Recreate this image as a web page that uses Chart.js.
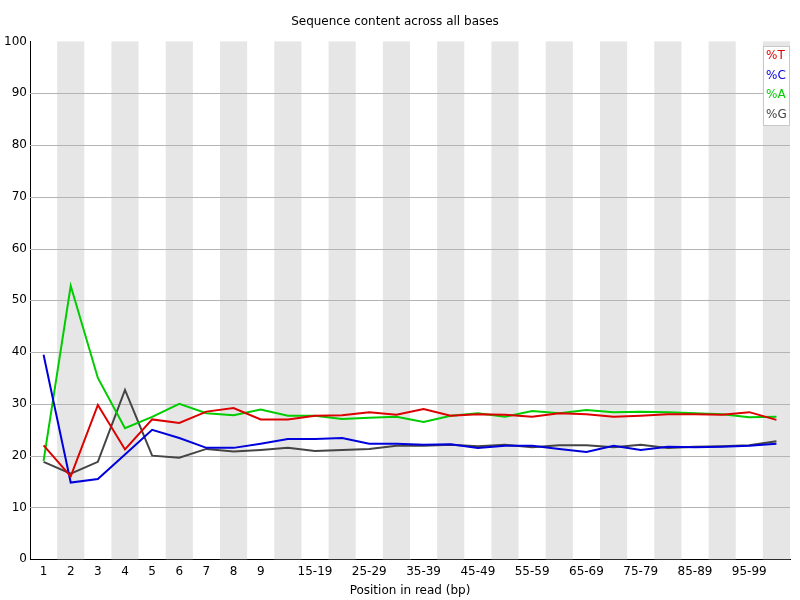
<!DOCTYPE html>
<html><head><meta charset="utf-8">
<script src="https://cdn.jsdelivr.net/npm/chart.js@4"></script>
<style>body{margin:0;background:#fff}#w{width:800px;height:600px}</style>
</head><body><div id="w"><canvas id="c"></canvas></div>
<script>
var labels = ['1','2','3','4','5','6','7','8','9','10-14','15-19','20-24','25-29','30-34','35-39','40-44','45-49','50-54','55-59','60-64','65-69','70-74','75-79','80-84','85-89','90-94','95-99','100-101'];
var pctT = [22,16,29.8,21.2,27,26.3,28.5,29.2,27,27,27.7,27.8,28.4,27.9,29,27.7,28,27.9,27.5,28.2,28,27.5,27.7,28,28,27.9,28.4,26.9];
var pctC = [39.5,14.8,15.5,20.2,25,23.4,21.5,21.5,22.3,23.2,23.2,23.4,22.3,22.3,22.1,22.2,21.5,21.9,21.9,21.3,20.7,21.9,21.1,21.7,21.6,21.7,21.9,22.3];
var pctA = [19,52.8,35,25.3,27.5,30,28.2,27.8,28.9,27.7,27.7,27.1,27.3,27.5,26.5,27.7,28.2,27.5,28.6,28.2,28.8,28.4,28.5,28.4,28.2,28,27.4,27.5];
var pctG = [18.8,16.5,18.8,32.7,20,19.6,21.3,20.8,21.1,21.5,20.9,21.1,21.3,21.9,21.9,22.1,21.8,22.1,21.6,22,22,21.6,22.1,21.5,21.7,21.8,22,22.8];

var fuente = 'DejaVu Sans';
Chart.defaults.font.family = fuente;
Chart.defaults.font.size = 12;
Chart.defaults.color = '#000';

function serie(nombre, datos, col) {
    return {label: nombre, data: datos, borderColor: col, backgroundColor: col,
        borderWidth: 2, pointRadius: 0, tension: 0};
}

// Bandas grises alternas y leyenda en la esquina
var fondo = {
    id: 'fondo',
    beforeDatasetsDraw: function (chart) {
        var c = chart.ctx, a = chart.chartArea, x = chart.scales.x;
        var w = x.getPixelForValue(1) - x.getPixelForValue(0);
        c.save();
        c.fillStyle = '#e6e6e6';
        for (var i = 1; i < labels.length; i += 2) {
            var px = x.getPixelForValue(i) - w / 2;
            c.fillRect(px, a.top, w, a.bottom - a.top);
        }
        c.restore();
        var y = chart.scales.y;
        c.save();
        c.strokeStyle = '#b4b4b4'; c.lineWidth = 1;
        for (var v = 10; v < 100; v += 10) {
            var py = Math.round(y.getPixelForValue(v)) + 0.5;
            c.beginPath(); c.moveTo(a.left, py); c.lineTo(a.right, py); c.stroke();
        }
        c.restore();
    },
    afterDraw: function (chart) {
        var c = chart.ctx, a = chart.chartArea;
        var items = [['%T', '#dd0000'], ['%C', '#0000dd'], ['%A', '#00cc00'], ['%G', '#444444']];
        c.save();
        c.fillStyle = '#ffffff'; c.strokeStyle = '#c8c8c8';
        c.fillRect(a.right - 26, 47, 26, 78);
        c.strokeRect(a.right - 26.5, 46.5, 26, 79);
        c.font = '12px ' + fuente; c.textBaseline = 'middle';
        items.forEach(function (it, i) {
            c.fillStyle = it[1];
            c.fillText(it[0], a.right - 24, 56 + i * 19.5);
        });
        c.restore();
    }
};

new Chart(document.getElementById('c'), {
    type: 'line',
    data: {labels: labels, datasets: [serie('%T', pctT, '#dd0000'), serie('%C', pctC, '#0000dd'), serie('%A', pctA, '#00cc00'), serie('%G', pctG, '#444444')]},
    options: {
        responsive: true, maintainAspectRatio: false, animation: false,
        layout: {padding: {top: 9, right: 10, left: 0, bottom: 0}},
        plugins: {
            legend: {display: false}, tooltip: {enabled: false},
            title: {display: true, text: 'Sequence content across all bases', font: {size: 12, weight: 'normal'}, padding: {top: 6, bottom: 12}}
        },
        scales: {
            x: {
                offset: true,
                grid: {display: false, drawTicks: false, offset: true},
                border: {color: '#000', width: 1},
                ticks: {padding: 5, autoSkip: false, maxRotation: 0,
                    callback: function (v, i) { return (i >= 9 && (i - 9) % 2 === 0) ? '' : labels[i]; }},
                title: {display: true, text: 'Position in read (bp)', padding: {top: 0, bottom: 2}}
            },
            y: {
                min: 0, max: 100,
                grid: {display: false, drawTicks: false},
                border: {color: '#000', width: 1},
                ticks: {stepSize: 10, padding: 3},
                afterFit: function (s) { s.width = 30; }
            }
        }
    },
    plugins: [fondo]
});
</script></body></html>
